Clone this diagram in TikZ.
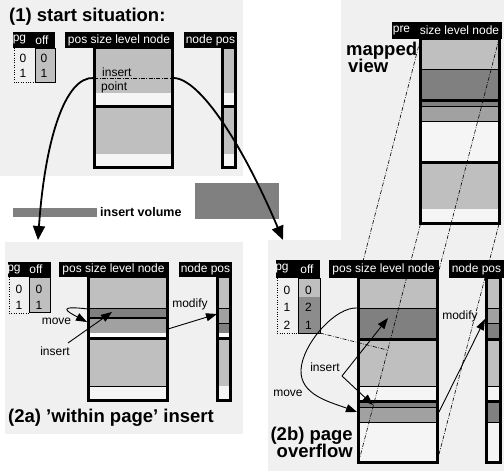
\documentclass[tikz,border=0pt]{standalone}
\usepackage{fontspec}
\setmainfont{Liberation Sans}
\usetikzlibrary{arrows.meta,calc}

\definecolor{panelgray}{gray}{0.94}
\definecolor{lightfill}{gray}{0.75}
\definecolor{midfill}{gray}{0.63}
\definecolor{darkfill}{gray}{0.5}
\definecolor{offdark}{gray}{0.55}
\definecolor{emptyfill}{gray}{0.96}

\begin{document}
\begin{tikzpicture}[x=1pt, y=-1pt,
    every node/.style={inner sep=0pt, font=\fontsize{12}{14}\selectfont},
    hdr/.style={fill=black},
    hdrtext/.style={text=white},
    title/.style={font=\fontsize{18.5}{17}\selectfont\bfseries},
    pagewall/.style={line width=3pt},
    thinsep/.style={line width=0.7pt},
    mapline/.style={line width=0.6pt, dash pattern=on 4pt off 1.5pt on 0.8pt off 1.5pt},
    bigarrow/.style={line width=1.8pt, -{Triangle[length=14pt,width=12pt]}},
    smallarrow/.style={line width=0.9pt, -{Triangle[length=11pt,width=8pt]}}]

    \useasboundingbox (0,0) rectangle (504,473);

    % grey panels
    \fill[panelgray] (0,0) rectangle (243,176);
    \fill[panelgray] (341,0) rectangle (504,240);
    \fill[panelgray] (268,240) rectangle (504,471);
    \fill[panelgray] (5,242) rectangle (243,434);

    %%%%% (1) start situation
    \node [title, anchor=base west] (t1) at (9,21.5) {(1) start situation:};
    \draw [dotted] (14,48) -- (14,82) -- (35,82);
    \draw [fill=lightfill] (35,48) rectangle (55,82);
    \node (pgA0) at (23,58) {0};
    \node (pgA1) at (23,73) {1};
    \node (offA0) at (44,58) {0};
    \node (offA1) at (44,73) {1};
    \foreach \a/\b/\c in {48/93/lightfill, 93/107/emptyfill, 107/154/lightfill, 154/168/emptyfill}{
        \fill [\c] (94,\a) rectangle (172,\b);
        \fill [\c] (222.5,\a) rectangle (235.5,\b);
    }
    \draw [pagewall] (94,107) -- (172,107);
    \draw [pagewall] (222.5,107) -- (235.5,107);
    \draw [pagewall] (94,48) rectangle (172,167.5);
    \draw [pagewall] (222.5,48) rectangle (235.5,167.5);
    \node [anchor=west] (insA) at (102,72) {insert};
    \node [anchor=west] (ptA) at (101,87) {point};
    \coordinate (ipL) at (94,78);
    \coordinate (ipR) at (172,78);
    \draw [mapline] (ipL) -- (ipR);
    \fill [hdr] (13,32) rectangle (55,48);
    \node [hdrtext] (pgA) at (19.5,40) {pg};
    \node [hdrtext] (offA) at (42,40) {off};
    \fill [hdr] (65,32) rectangle (173.5,48);
    \node [hdrtext] (posA) at (119,40) {pos size level node};
    \fill [hdr] (184,32) rectangle (237,48);
    \node [hdrtext] (npA) at (210.5,40) {node pos};

    % insert volume
    \fill [darkfill] (13,208) rectangle (97,217);
    \node [anchor=west, font=\fontsize{12.5}{14}\selectfont\bfseries] (ivol) at (100,212.5) {insert volume};
    \fill [darkfill] (195,183) rectangle (279,219);

    %%%%% mapped view
    \node [title, anchor=base west] (mv1) at (346,56) {mapped};
    \node [title, anchor=base west] (mv2) at (348,73) {view};
    \foreach \a/\b/\c in {39/69/lightfill, 69/106/darkfill, 106/121/midfill, 121/163/emptyfill, 163/209/lightfill, 209/224/emptyfill}
        \fill [\c] (420.5,\a) rectangle (499,\b);
    \foreach \y in {69,106,121}
        \draw [thinsep] (420.5,\y) -- (499,\y);
    \draw [pagewall] (420.5,100.7) -- (499,100.7);
    \draw [pagewall] (420.5,163) -- (499,163);
    \draw [pagewall] (420.5,39) rectangle (499,224);

    %%%%% (2a) within page insert
    \node [title, anchor=base west] (t2a) at (8,422.5) {(2a) 'within page' insert};
    \draw [dotted] (9,277) -- (9,313) -- (29,313);
    \draw [fill=lightfill] (29,277) rectangle (50,312);
    \node (pgB0) at (19,289) {0};
    \node (pgB1) at (19,305.5) {1};
    \node (offB0) at (39,289) {0};
    \node (offB1) at (39,305.5) {1};
    \foreach \a/\b/\c in {277/308/lightfill, 308/318/darkfill, 318/333/midfill, 333/338.5/white, 338.5/386/lightfill, 386/401/emptyfill}
        \fill [\c] (88.5,\a) rectangle (167.3,\b);
    \foreach \a/\b/\c in {277/308/lightfill, 308/323/midfill, 323/333/darkfill, 333/338.5/white, 338.5/386/lightfill, 386/401/emptyfill}
        \fill [\c] (217,\a) rectangle (230.5,\b);
    \foreach \y in {308,386}
        \draw [thinsep] (88.5,\y) -- (167.3,\y);
    \foreach \y in {308,323}
        \draw [thinsep] (217,\y) -- (230.5,\y);
    \draw [line width=1.6pt] (88.5,318.3) -- (167.3,318.3);
    \draw [pagewall] (88.5,338.5) -- (167.3,338.5);
    \draw [pagewall] (217,338.5) -- (230.5,338.5);
    \draw [pagewall] (88.5,277) rectangle (167.3,401);
    \draw [pagewall] (217,277) rectangle (230.5,401);
    \fill [hdr] (8,262) rectangle (51,277);
    \node [hdrtext] (pgB) at (14,269.5) {pg};
    \node [hdrtext] (offB) at (36,269.5) {off};
    \fill [hdr] (59,262) rectangle (168.8,277);
    \node [hdrtext] (posB) at (113.5,269.5) {pos size level node};
    \fill [hdr] (179,262) rectangle (232,277);
    \node [hdrtext] (npB) at (205.5,269.5) {node pos};

    \node (mvB) at (56.5,321.5) {move};
    \node (isB) at (55,351) {insert};
    \node (mdB) at (190,304) {modify};
    \coordinate (mvB0) at (88,309);
    \coordinate (mvB1) at (87,322);
    \coordinate (isB0) at (68,343);
    \coordinate (isB1) at (112,312);
    \coordinate (mdB0) at (168,329);
    \coordinate (mdB1) at (217,314);
    \draw [smallarrow] (mvB0) .. controls (55,305) and (68,312) .. (mvB1);
    \draw [smallarrow] (isB0) -- (isB1);
    \draw [smallarrow] (mdB0) -- (mdB1);

    %%%%% (2b) page overflow
    \node [title, anchor=base east] (t2b1) at (353,440) {(2b) page};
    \node [title, anchor=base east] (t2b2) at (353,457.5) {overflow};
    \draw [dotted] (277,278) -- (277,333) -- (298,333);
    \fill [lightfill] (298,278) rectangle (320,297);
    \fill [offdark] (298,297) rectangle (320,333);
    \draw (298,278) rectangle (320,333);
    \node (pgC0) at (287,290) {0};
    \node (pgC1) at (287,307) {1};
    \node (pgC2) at (287,325) {2};
    \node (offC0) at (308.5,290) {0};
    \node (offC1) at (308.5,307) {2};
    \node (offC2) at (308.5,325) {1};
    \foreach \a/\b/\c in {278/308/lightfill, 308/339.5/darkfill, 339.5/386/lightfill, 386/402/emptyfill, 402/407/darkfill, 407/422/midfill, 422/462/emptyfill}
        \fill [\c] (358.7,\a) rectangle (437,\b);
    \foreach \a/\b/\c in {278/308/lightfill, 308/323/midfill, 323/339.5/darkfill, 339.5/386/lightfill, 386/402/emptyfill, 402/422/darkfill, 422/462/emptyfill}
        \fill [\c] (486,\a) rectangle (500.5,\b);
    \foreach \y in {308,386,407,422}
        \draw [thinsep] (358.7,\y) -- (437,\y);
    \foreach \y in {308,323,386,422}
        \draw [thinsep] (486,\y) -- (500.5,\y);
    \foreach \y in {339.5,402}{
        \draw [pagewall] (358.7,\y) -- (437,\y);
        \draw [pagewall] (486,\y) -- (500.5,\y);
    }
    \draw [pagewall] (358.7,278) rectangle (437,462);
    \draw [pagewall] (486,278) rectangle (500.5,462);

    % mapping of the view onto the pages
    \coordinate (mTL) at (420.5,39);
    \coordinate (mTR) at (499,39);
    \coordinate (mBL) at (420.5,224);
    \coordinate (mBR) at (499,224);
    \coordinate (bTL) at (358.7,278);
    \coordinate (bTR) at (437,278);
    \coordinate (bBL) at (358.7,462);
    \coordinate (bBR) at (437,462);
    \coordinate (offC) at (320,333);
    \coordinate (pgX) at ($(mBL)!0.53!(bBL)$);
    \draw [mapline] (mTL) -- (bTL);
    \draw [mapline] (mTR) -- (bTR);
    \draw [mapline] (mBL) -- (bBL);
    \draw [mapline] (mBR) -- (bBR);
    \draw [mapline] (offC) -- (pgX);

    \fill [hdr] (392,22) rectangle (502,39);
    \node [hdrtext] (preM) at (401.5,30.5) {pre};
    \node [hdrtext] (sizeM) at (459.5,30.5) {size level node};
    \fill [hdr] (276,260) rectangle (320,278);
    \node [hdrtext] (pgC) at (282,269) {pg};
    \node [hdrtext] (offCh) at (307,269) {off};
    \fill [hdr] (329,260) rectangle (438.5,278);
    \node [hdrtext] (posC) at (383.5,269) {pos size level node};
    \fill [hdr] (449,260) rectangle (504,278);
    \node [hdrtext] (npC) at (476.5,269) {node pos};

    \node (mvC) at (288,393) {move};
    \node (isC) at (325,367) {insert};
    \node (mdC) at (460,316) {modify};
    \coordinate (mvC0) at (358,308);
    \coordinate (mvCm) at (301,370);
    \coordinate (mvC1) at (357,412);
    \coordinate (isC0) at (342,376);
    \coordinate (isC1) at (388,318);
    \coordinate (isC2) at (373,405);
    \coordinate (mdC0) at (439,412);
    \coordinate (mdC1) at (485,319);
    \draw [smallarrow] (mvC0) .. controls (335,306) and (302,345) .. (mvCm) .. controls (300,395) and (330,402) .. (mvC1);
    \draw [smallarrow] (isC0) -- (isC1);
    \draw [smallarrow] (isC0) -- (isC2);
    \draw [smallarrow] (mdC0) -- (mdC1);

    %%%%% big arrows from (1)
    \coordinate (tipA) at (38,240);
    \coordinate (tipB) at (283,240);
    \draw [bigarrow] (ipL) .. controls (65,76) and (45,140) .. (tipA);
    \draw [bigarrow] (ipR) .. controls (200,76) and (245,150) .. (tipB);
\end{tikzpicture}
\end{document}
